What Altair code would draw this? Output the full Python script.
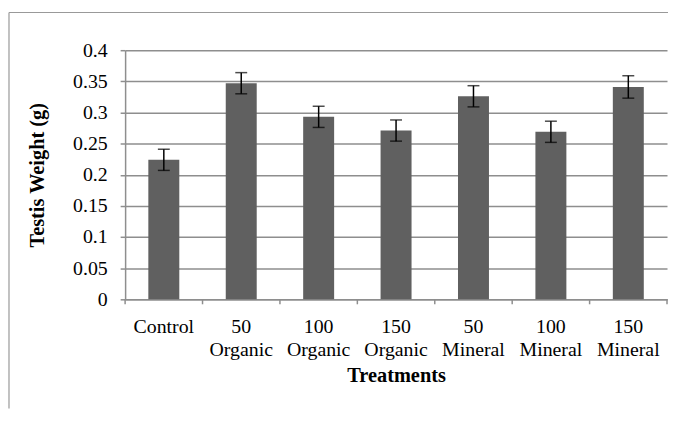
import altair as alt
import pandas as pd

categories = ["Control", "50\nOrganic", "100\nOrganic", "150\nOrganic",
              "50\nMineral", "100\nMineral", "150\nMineral"]
means = [0.224, 0.347, 0.293, 0.271, 0.326, 0.269, 0.341]
errors = [0.017, 0.017, 0.017, 0.017, 0.017, 0.017, 0.018]
y_ticks = [0, 0.05, 0.1, 0.15, 0.2, 0.25, 0.3, 0.35, 0.4]

df = pd.DataFrame({"cat": categories, "mean": means, "err": errors})
df["lo"] = df["mean"] - df["err"]
df["hi"] = df["mean"] + df["err"]

FONT = "Liberation Serif"
GRID = "#8e8e8e"
FS = 20
TFS = 20.5
W, H = 546, 251

xscale = alt.Scale(domain=categories, paddingInner=0, paddingOuter=0)
yscale = alt.Scale(domain=[0, 0.4], nice=False)

xaxis = alt.Axis(labelExpr="split(datum.label, '\\n')", labelAngle=0,
                 ticks=False, labelPadding=17, labelFontSize=FS,
                 labelFont=FONT, labelColor="#000",
                 labelLineHeight=24, labelBaseline="top",
                 titleFont=FONT, titleFontSize=TFS, titleFontWeight="bold",
                 titlePadding=6, titleColor="#000",
                 domainColor=GRID, domainWidth=1.5)
yaxis = alt.Axis(values=y_ticks, format=".2~f", grid=True,
                 labelOverlap=False,
                 gridColor=GRID, gridWidth=1.5, tickColor=GRID,
                 tickWidth=1.5, tickSize=5, domainColor=GRID,
                 domainWidth=1.5, labelFont=FONT, labelFontSize=FS,
                 labelColor="#000", labelPadding=13,
                 titleFont=FONT, titleFontSize=TFS,
                 titleFontWeight="bold", titleColor="#000",
                 titlePadding=25)

XT = "Treatments"
YT = "Testis Weight (g)"

def xenc(bp=None):
    if bp is None:
        return alt.X("cat:N", sort=categories, scale=xscale, axis=xaxis, title=XT)
    return alt.X("cat:N", sort=categories, scale=xscale, axis=xaxis, title=XT,
                 bandPosition=bp)

def yenc(field):
    return alt.Y(field, scale=yscale, axis=yaxis, title=YT)

base = alt.Chart(df)

bars = base.mark_bar(color="#606060", width={"band": 0.4}).encode(
    x=xenc(), y=yenc("mean:Q"),
)
err_rule = base.mark_rule(color="#000", strokeWidth=1.5).encode(
    x=xenc(), y=yenc("lo:Q"), y2="hi:Q",
)
cap_lo = base.mark_tick(color="#000", thickness=1.5, size=12).encode(
    x=xenc(), y=yenc("lo:Q"),
)
cap_hi = base.mark_tick(color="#000", thickness=1.5, size=12).encode(
    x=xenc(), y=yenc("hi:Q"),
)

# category-boundary ticks on the x axis (Excel style)
xticks_left = base.mark_rule(color=GRID, strokeWidth=1.5).encode(
    x=xenc(0), y=alt.value(H), y2=alt.value(H + 5),
)
xtick_right = alt.Chart(df.tail(1)).mark_rule(color=GRID, strokeWidth=1.5).encode(
    x=xenc(1), y=alt.value(H), y2=alt.value(H + 5),
)

frame = alt.Data(values=[{"a": 1}])
border_top = alt.Chart(frame).mark_rule(color="#999999", strokeWidth=1.2).encode(
    x=alt.value(-117), x2=alt.value(W + 1), y=alt.value(-38),
)
border_left = alt.Chart(frame).mark_rule(color="#999999", strokeWidth=1.2).encode(
    x=alt.value(-117), y=alt.value(-38), y2=alt.value(H + 110),
)

chart = alt.layer(
    bars, err_rule, cap_lo, cap_hi, xticks_left, xtick_right,
    border_top, border_left
).properties(
    width=W, height=H,
    padding={"left": 0, "top": 2, "right": 0, "bottom": 0},
).configure(
    background="#ffffff",
    view=alt.ViewConfig(stroke=None),
)

chart.save("out.html", embed_options={"renderer": "svg", "actions": False})
